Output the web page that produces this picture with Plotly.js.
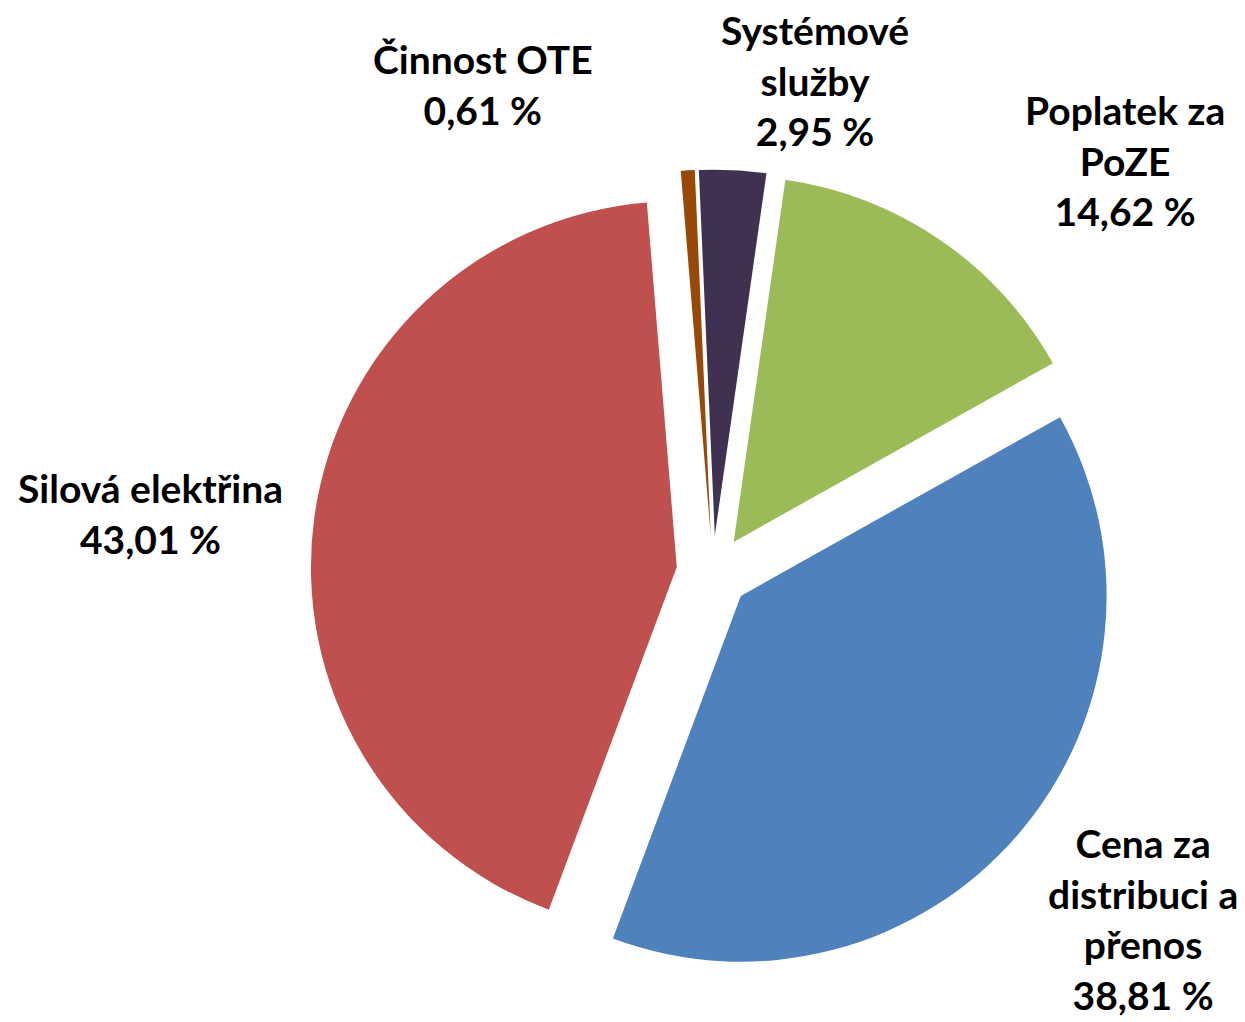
<!DOCTYPE html>
<html>
<head>
<meta charset="utf-8">
<script src="https://cdn.plot.ly/plotly-3.0.1.min.js"></script>
<style>html,body{margin:0;padding:0;background:#fff;}#chart{width:1245px;height:1022px;}</style>
</head>
<body>
<div id="chart"></div>
<script>
const categories = ["Systémové<br>služby", "Poplatek za<br>PoZE", "Cena za<br>distribuci a<br>přenos", "Silová elektřina", "Činnost OTE"];
const shares = [2.95, 14.62, 38.81, 43.01, 0.61];
const sliceColors = ["#403151", "#9BBB59", "#4F81BD", "#C0504D", "#984807"];

// label placement (paper fractions), one per category
const labelX = [815 / 1245, 1125 / 1245, 1143 / 1245, 150 / 1245, 483 / 1245];
const labelY = [1 - 80 / 1022, 1 - 160 / 1022, 1 - 919 / 1022, 1 - 513 / 1022, 1 - 84 / 1022];

const fmt = v => v.toFixed(2).replace(".", ",") + " %";

const trace = {
  type: "pie",
  labels: categories,
  values: shares,
  sort: false,
  direction: "clockwise",
  rotation: -2.5,
  pull: 0.1,
  marker: {colors: sliceColors, line: {width: 0}},
  textinfo: "none",
  hoverinfo: "label+value",
  domain: {x: [0.2494, 0.896], y: [0.0465, 0.834]},
  showlegend: false
};

const annotations = categories.map((c, i) => ({
  text: c + "<br>" + fmt(shares[i]),
  x: labelX[i], y: labelY[i],
  xref: "paper", yref: "paper",
  xanchor: "center", yanchor: "middle",
  align: "center",
  showarrow: false,
  font: {family: "Lato, 'Open Sans', sans-serif", size: 39, color: "#000", weight: "bold"}
}));

const layout = {
  width: 1245, height: 1022,
  margin: {l: 0, r: 0, t: 0, b: 0},
  paper_bgcolor: "#fff",
  separators: ", ",
  showlegend: false,
  annotations: annotations
};

Plotly.newPlot("chart", [trace], layout, {displayModeBar: false, staticPlot: true});
</script>
</body>
</html>
